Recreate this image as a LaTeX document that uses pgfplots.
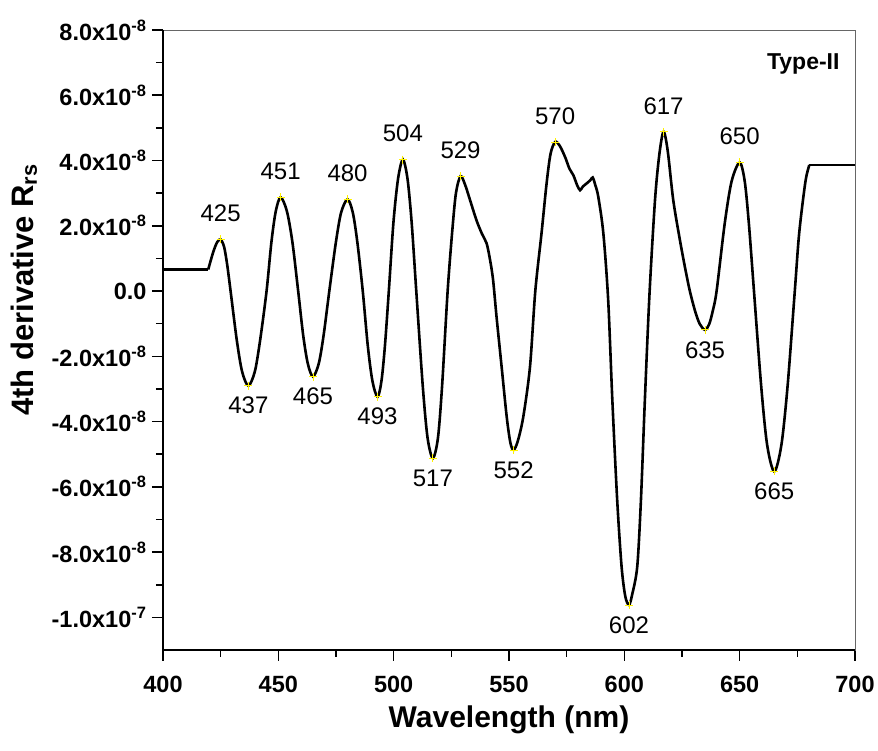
\documentclass[border=0pt]{standalone}
\usepackage{pgfplots}
\pgfplotsset{compat=1.18}
\usepackage{fontspec}
\setmainfont{Liberation Sans}

% fourth derivative of remote-sensing reflectance (flat ends + smooth middle)
\pgfplotstableread{
x y
400 6.6e-9
419.6 6.6e-9
}\flatleft
\pgfplotstableread{
x y
680.2 38.6e-9
700 38.6e-9
}\flatright
\pgfplotstableread{
x y
419.6 6.6e-9
421.8 12.0e-9
423.5 15.0e-9
425.0 15.8e-9
426.5 13.5e-9
427.8 8.2e-9
429.3 0.0e-9
432.0 -15.1e-9
434.3 -24.7e-9
437.0 -29.0e-9
439.8 -24.7e-9
442.1 -15.1e-9
444.9 0.0e-9
447.0 15.0e-9
448.9 24.5e-9
451.0 28.7e-9
453.7 24.5e-9
456.1 15.0e-9
458.6 0.0e-9
460.8 -13.7e-9
462.8 -22.3e-9
465.0 -26.2e-9
467.5 -22.3e-9
469.6 -13.7e-9
472.1 0.0e-9
474.9 14.7e-9
477.2 24.0e-9
480.0 28.1e-9
482.3 24.0e-9
484.3 14.7e-9
486.6 0.0e-9
488.8 -16.9e-9
490.8 -27.6e-9
493.0 -32.4e-9
494.7 -27.6e-9
496.2 -16.9e-9
497.9 0.0e-9
499.9 21.0e-9
501.9 34.4e-9
504.0 40.3e-9
506.0 34.4e-9
507.8 21.0e-9
509.8 0.0e-9
512.6 -29.0e-9
514.7 -45.0e-9
517.0 -51.2e-9
519.2 -45.0e-9
521.0 -29.0e-9
523.4 0.0e-9
525.4 18.4e-9
527.0 30.0e-9
529.0 35.2e-9
531.0 32.5e-9
533.1 27.9e-9
535.9 21.7e-9
538.3 17.5e-9
540.3 14.6e-9
541.8 9.5e-9
543.1 3.4e-9
544.6 -7.9e-9
546.8 -23.2e-9
549.0 -38.5e-9
550.6 -46.5e-9
552.0 -48.7e-9
553.8 -46.0e-9
556.2 -38.5e-9
559.1 -23.2e-9
561.4 0.0e-9
564.1 17.7e-9
566.3 33.0e-9
568.0 42.0e-9
570.0 45.7e-9
572.0 44.5e-9
574.3 41.1e-9
576.2 37.5e-9
577.9 35.5e-9
579.5 32.5e-9
580.8 30.9e-9
582.0 32.0e-9
583.7 33.0e-9
585.3 34.0e-9
586.3 34.8e-9
587.4 32.5e-9
588.7 28.9e-9
590.9 17.7e-9
593.0 -2.8e-9
594.8 -33.4e-9
596.9 -64.0e-9
598.8 -84.4e-9
600.4 -93.5e-9
602.0 -96.2e-9
603.4 -93.0e-9
605.6 -84.4e-9
607.2 -64.0e-9
608.9 -33.4e-9
610.9 -1.0e-9
613.3 27.9e-9
615.2 42.0e-9
617.0 48.8e-9
618.8 43.0e-9
621.2 27.9e-9
624.1 15.6e-9
626.5 6.5e-9
628.4 0.0e-9
630.7 -6.2e-9
632.7 -10.1e-9
635.0 -11.9e-9
636.8 -10.1e-9
638.3 -6.2e-9
640.0 0.0e-9
643.5 20.6e-9
646.5 33.6e-9
650.0 39.4e-9
652.2 33.6e-9
654.0 20.6e-9
656.2 0.0e-9
659.3 -28.9e-9
661.9 -47.1e-9
665.0 -55.3e-9
668.1 -47.1e-9
670.8 -28.9e-9
673.9 0.0e-9
675.8 17.7e-9
678.5 33.5e-9
680.2 38.6e-9
}\middle
% labelled maxima and minima
\pgfplotstableread{
x y
425 15.8e-9
451 28.7e-9
480 28.1e-9
504 40.3e-9
529 35.2e-9
570 45.7e-9
617 48.8e-9
650 39.4e-9
}\maxima
\pgfplotstableread{
x y
437 -29.0e-9
465 -26.2e-9
493 -32.4e-9
517 -51.2e-9
552 -48.7e-9
602 -96.2e-9
635 -11.9e-9
665 -55.3e-9
}\minima

\begin{document}
\begin{tikzpicture}[x=1pt,y=1pt]
\useasboundingbox (0,0) rectangle (878,751);
\begin{axis}[
  at={(163pt,101pt)}, anchor=south west,
  scale only axis, width=692pt, height=620pt,
  xmin=400, xmax=700, ymin=-1.1e-7, ymax=8e-8,
  xtick={400,450,500,550,600,650,700}, minor x tick num=1,
  ytick={-1e-7,-8e-8,-6e-8,-4e-8,-2e-8,0,2e-8,4e-8,6e-8,8e-8},
  yticklabels={{-1.0x10\textsuperscript{-7}},{-8.0x10\textsuperscript{-8}},{-6.0x10\textsuperscript{-8}},{-4.0x10\textsuperscript{-8}},{-2.0x10\textsuperscript{-8}},{0.0},{2.0x10\textsuperscript{-8}},{4.0x10\textsuperscript{-8}},{6.0x10\textsuperscript{-8}},{8.0x10\textsuperscript{-8}}},
  minor y tick num=1,
  scaled y ticks=false,
  tick align=outside, tick pos=left,
  major tick length=11pt, minor tick length=7pt,
  every tick/.style={black, line width=1.6pt},
  axis line style={black!60, line width=0.7pt},
  /pgf/number format/assume math mode=true,
  ticklabel style={font=\fontsize{23.5}{27}\selectfont\bfseries},
  xticklabel style={yshift=-12pt},
  yticklabel style={xshift=-2pt},
  clip=false,
]
\addplot[black, line width=2.6pt] table {\flatleft};
\addplot[black, line width=2.6pt, smooth] table {\middle};
\addplot[black, line width=2.6pt] table {\flatright};
\addplot[only marks, mark=+, mark size=4pt, yellow, line width=0.8pt,
  point meta=x, nodes near coords,
  every node near coord/.append style={anchor=south, inner sep=0pt, yshift=17pt, black, font=\fontsize{24}{28}\selectfont}]
  table {\maxima};
\addplot[only marks, mark=+, mark size=4pt, yellow, line width=0.8pt,
  point meta=x, nodes near coords,
  every node near coord/.append style={anchor=north, inner sep=0pt, yshift=-11pt, black, font=\fontsize{24}{28}\selectfont}]
  table {\minima};
\draw[black, line width=2pt] (rel axis cs:0,1) -- (rel axis cs:0,0) -- (rel axis cs:1,0);
\end{axis}
\node[anchor=base east, font=\fontsize{23}{27}\selectfont\bfseries] at (843,681) {Type-II};
\node[font=\fontsize{30}{34}\selectfont\bfseries] at (509,31) {Wavelength (nm)};
\node[rotate=90, font=\fontsize{31}{35}\selectfont\bfseries] at (24,461) {4th derivative R\textsubscript{rs}};
\end{tikzpicture}
\end{document}
